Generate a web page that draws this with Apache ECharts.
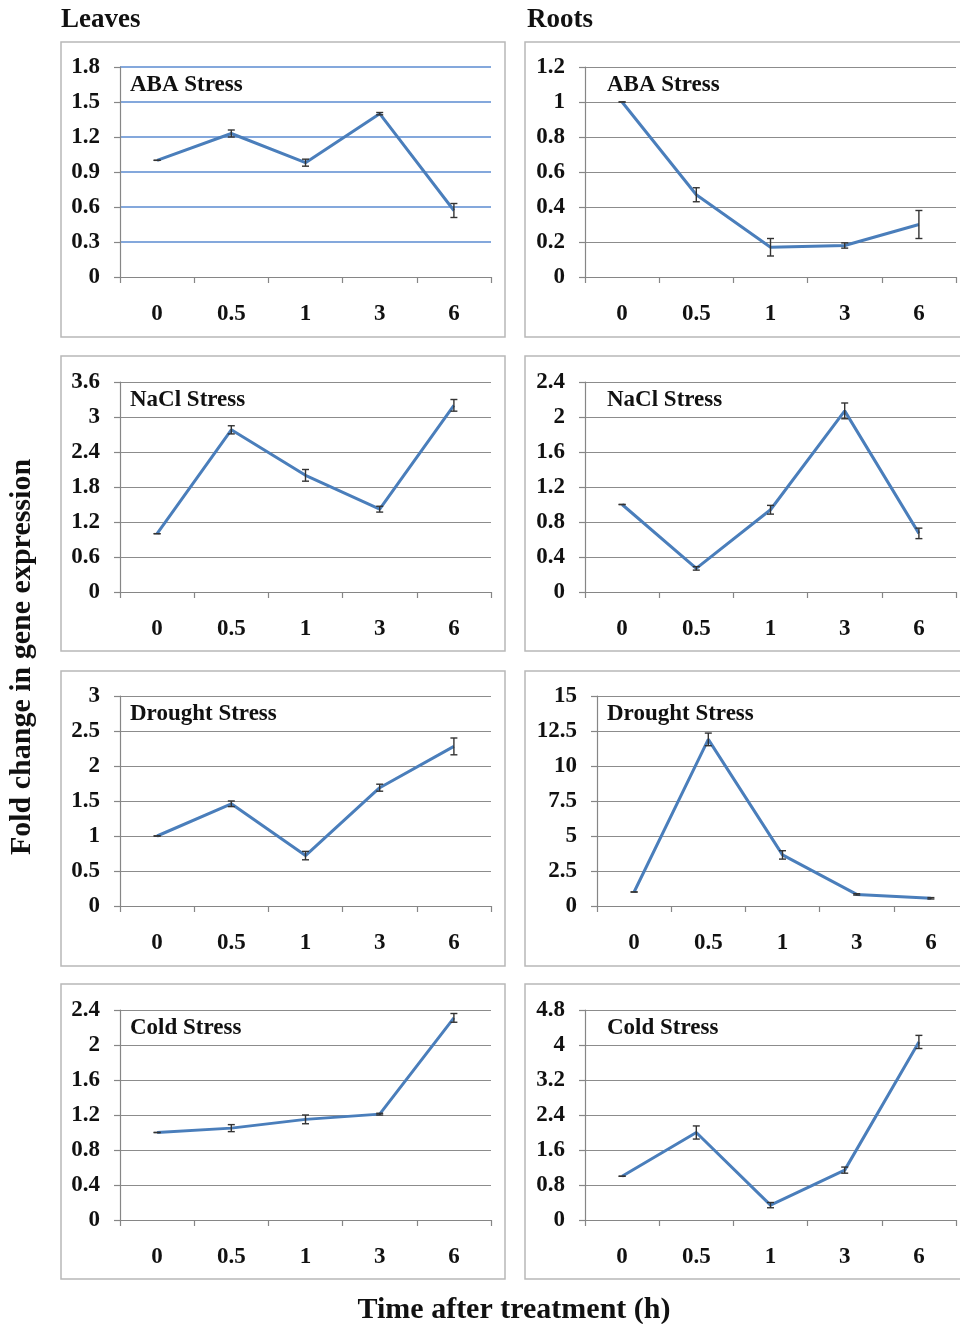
<!DOCTYPE html>
<html>
<head>
<meta charset="utf-8">
<script src="https://cdn.jsdelivr.net/npm/echarts@6/dist/echarts.min.js"></script>
<style>
  html, body { margin: 0; padding: 0; background: #fff; }
  #chart { width: 960px; height: 1324px; }
</style>
</head>
<body>
<div id="chart"></div>
<script>
// time points (h)
var times = ['0', '0.5', '1', '3', '6'];

// leaves
var leavesAba = [1.0, 1.23, 0.98, 1.40, 0.57];
var leavesAbaErr = [0, 0.03, 0.03, 0.01, 0.06];
var leavesNacl = [1.0, 2.78, 2.0, 1.42, 3.2];
var leavesNaclErr = [0, 0.07, 0.1, 0.05, 0.1];
var leavesDrought = [1.0, 1.46, 0.72, 1.69, 2.28];
var leavesDroughtErr = [0, 0.04, 0.06, 0.05, 0.12];
var leavesCold = [1.0, 1.05, 1.15, 1.21, 2.31];
var leavesColdErr = [0, 0.04, 0.05, 0.01, 0.05];

// roots
var rootsAba = [1.0, 0.47, 0.17, 0.18, 0.30];
var rootsAbaErr = [0, 0.04, 0.05, 0.015, 0.08];
var rootsNacl = [1.0, 0.27, 0.94, 2.07, 0.67];
var rootsNaclErr = [0, 0.02, 0.05, 0.09, 0.06];
var rootsDrought = [1.0, 11.9, 3.65, 0.83, 0.55];
var rootsDroughtErr = [0, 0.45, 0.3, 0.05, 0.05];
var rootsCold = [1.0, 2.0, 0.34, 1.14, 4.07];
var rootsColdErr = [0, 0.15, 0.06, 0.07, 0.15];

// y axis ranges (max, step)
var yMax = [1.8, 1.2, 3.6, 2.4, 3, 15, 2.4, 4.8];
var yStep = [0.3, 0.2, 0.6, 0.4, 0.5, 2.5, 0.4, 0.8];

var stressNames = ['ABA Stress', 'NaCl Stress', 'Drought Stress', 'Cold Stress'];

var panels = [
    { vals: leavesAba, errs: leavesAbaErr },
    { vals: rootsAba, errs: rootsAbaErr },
    { vals: leavesNacl, errs: leavesNaclErr },
    { vals: rootsNacl, errs: rootsNaclErr },
    { vals: leavesDrought, errs: leavesDroughtErr },
    { vals: rootsDrought, errs: rootsDroughtErr },
    { vals: leavesCold, errs: leavesColdErr },
    { vals: rootsCold, errs: rootsColdErr }
];

var FONT = "'Liberation Serif', 'Times New Roman', serif";
var LINE = '#4a7ebb';
var AXIS = '#868686';

var plotTops = [67, 382, 696, 1010];
var frameTops = [42, 356, 671, 984];

function renderErr(params, api) {
    var x = api.coord([api.value(0), api.value(1)])[0];
    var hi = api.coord([api.value(0), api.value(1) + api.value(2)])[1];
    var lo = api.coord([api.value(0), api.value(1) - api.value(2)])[1];
    var st = { stroke: '#333', lineWidth: 1.4 };
    return {
        type: 'group',
        children: [
            { type: 'line', shape: { x1: x, y1: hi, x2: x, y2: lo }, style: st },
            { type: 'line', shape: { x1: x - 3.5, y1: hi, x2: x + 3.5, y2: hi }, style: st },
            { type: 'line', shape: { x1: x - 3.5, y1: lo, x2: x + 3.5, y2: lo }, style: st }
        ]
    };
}

var grids = [], xAxes = [], yAxes = [], series = [];
var graphics = [
    { type: 'text', left: 61, top: 7, style: { text: 'Leaves', font: 'bold 27px ' + FONT, fill: '#111' } },
    { type: 'text', left: 527, top: 7, style: { text: 'Roots', font: 'bold 27px ' + FONT, fill: '#111' } },
    { type: 'text', x: 22, y: 657, rotation: Math.PI / 2,
      style: { text: 'Fold change in gene expression', font: 'bold 30px ' + FONT, fill: '#111',
               align: 'center', verticalAlign: 'middle' } },
    { type: 'text', x: 514, y: 1310,
      style: { text: 'Time after treatment (h)', font: 'bold 30px ' + FONT, fill: '#111',
               align: 'center', verticalAlign: 'middle' } }
];

panels.forEach(function (p, i) {
    var row = Math.floor(i / 2), col = i % 2;
    var left = col === 0 ? 120 : (row === 2 ? 597 : 585);
    var top = plotTops[row];

    // panel frame
    graphics.push({
        type: 'rect', z: -1,
        shape: { x: col === 0 ? 61 : 525, y: frameTops[row], width: col === 0 ? 444 : 450, height: 295 },
        style: { fill: null, stroke: '#b8b8b8', lineWidth: 1.5 }
    });
    graphics.push({
        type: 'text', left: col === 0 ? 130 : 607, top: top + 7,
        style: { text: stressNames[row], font: 'bold 23px ' + FONT, fill: '#111' }
    });

    grids.push({ left: left, top: top, width: 371, height: 210, outerBoundsMode: 'none', containLabel: false });
    xAxes.push({
        type: 'category', gridIndex: i, data: times, boundaryGap: true,
        axisLine: { lineStyle: { color: AXIS, width: 1.2 } },
        axisTick: { show: true, length: 6, lineStyle: { color: AXIS, width: 1.2 } },
        axisLabel: { margin: 26, color: '#111', fontFamily: FONT, fontWeight: 'bold', fontSize: 23 }
    });
    yAxes.push({
        type: 'value', gridIndex: i, min: 0, max: yMax[i], interval: yStep[i],
        axisLine: { show: true, lineStyle: { color: AXIS, width: 1.2 } },
        axisTick: { show: true, length: 6, lineStyle: { color: AXIS, width: 1.2 } },
        axisLabel: { margin: 20, color: '#111', fontFamily: FONT, fontWeight: 'bold', fontSize: 23 },
        splitLine: {
            show: true, showMinLine: false,
            lineStyle: { color: i === 0 ? '#5b8bd0' : '#8c8c8c', width: i === 0 ? 1.5 : 1.2 }
        }
    });
    series.push({
        type: 'line', xAxisIndex: i, yAxisIndex: i, data: p.vals,
        symbol: 'none', lineStyle: { color: LINE, width: 3 }, z: 3
    });
    series.push({
        type: 'custom', xAxisIndex: i, yAxisIndex: i, z: 4,
        renderItem: renderErr,
        data: p.vals.map(function (v, k) { return [k, v, p.errs[k]]; })
    });
});

var myChart = echarts.init(document.getElementById('chart'));
myChart.setOption({
    animation: false,
    backgroundColor: '#fff',
    grid: grids,
    xAxis: xAxes,
    yAxis: yAxes,
    series: series,
    graphic: graphics
});
</script>
</body>
</html>
